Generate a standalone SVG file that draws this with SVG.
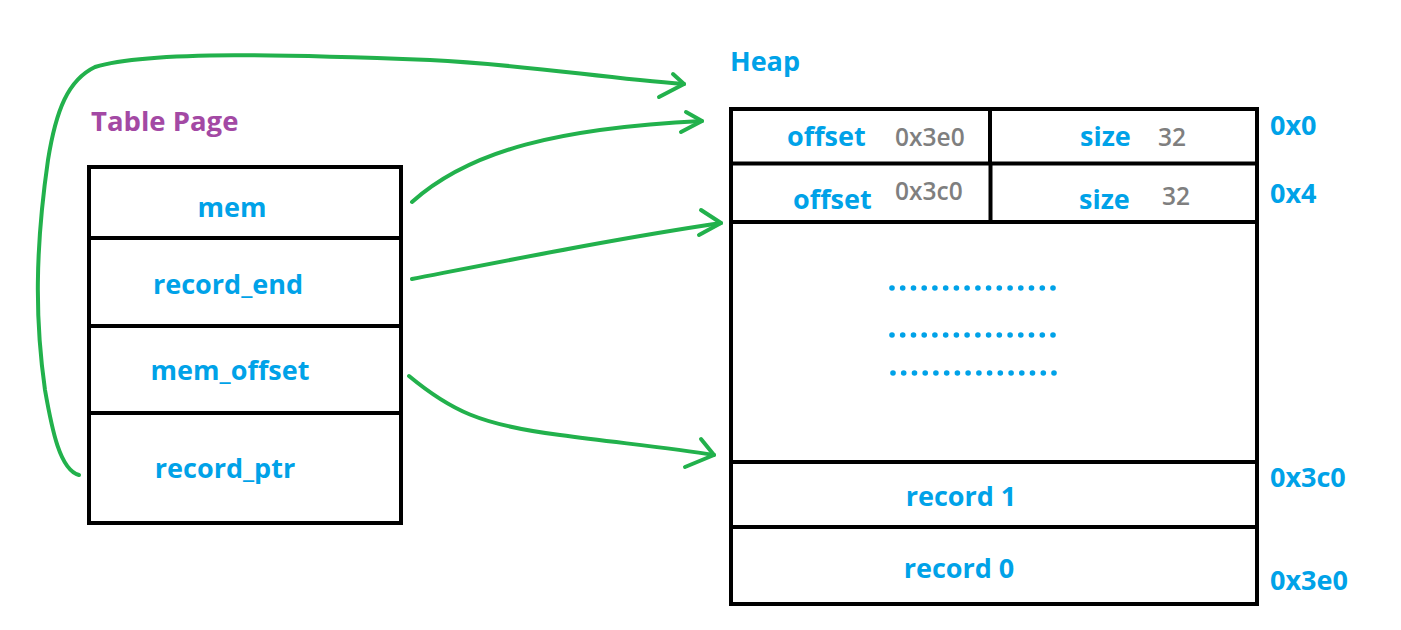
<svg xmlns="http://www.w3.org/2000/svg" width="1401" height="630" viewBox="0 0 1401 630">
<style>
.bx{fill:#fff;stroke:#000;stroke-width:4}
.ln{stroke:#000;stroke-width:4;fill:none}
.lb{font-family:"Open Sans","Noto Sans",sans-serif;font-weight:700;fill:#00a2e8;font-size:27px}
.gv{font-family:"Open Sans","Noto Sans",sans-serif;font-weight:600;fill:#7f7f7f;font-size:24.5px}
.ttl{font-family:"Open Sans","Noto Sans",sans-serif;font-weight:700;fill:#a349a4;font-size:27.5px}
.ar{fill:none;stroke:#22b14c;stroke-width:4;stroke-linecap:round;stroke-linejoin:round}
.dot{fill:#00a2e8}
</style>
<rect width="1401" height="630" fill="#fff"/>
<g id="table-page">
<text class="ttl" x="91" y="131">Table Page</text>
<rect class="bx" x="89" y="167" width="312" height="356"/>
<line class="ln" x1="89" y1="238" x2="401" y2="238"/>
<line class="ln" x1="87" y1="326" x2="401" y2="326"/>
<line class="ln" x1="87" y1="413" x2="401" y2="413"/>
<text class="lb" x="232" y="217" text-anchor="middle">mem</text>
<text class="lb" x="228" y="294" text-anchor="middle">record_end</text>
<text class="lb" x="230" y="380" text-anchor="middle">mem_offset</text>
<text class="lb" x="225" y="478" text-anchor="middle">record_ptr</text>
</g>
<g id="heap">
<text class="lb" x="730" y="71">Heap</text>
<rect class="bx" x="731" y="109" width="526" height="495"/>
<line class="ln" x1="731" y1="163.5" x2="1257" y2="163.5" stroke-width="5.5"/>
<line class="ln" x1="731" y1="222" x2="1257" y2="222"/>
<line class="ln" x1="990" y1="109" x2="990" y2="164"/>
<line class="ln" x1="990.5" y1="163" x2="990.5" y2="222"/>
<line class="ln" x1="731" y1="462" x2="1257" y2="462"/>
<line class="ln" x1="731" y1="527" x2="1257" y2="527"/>
<text class="lb" x="787" y="146">offset</text>
<text class="gv" x="895" y="146">0x3e0</text>
<text class="lb" x="1080" y="146">size</text>
<text class="gv" x="1158" y="146">32</text>
<text class="lb" x="793" y="209">offset</text>
<text class="gv" x="895" y="200">0x3c0</text>
<text class="lb" x="1079" y="209">size</text>
<text class="gv" x="1162" y="205">32</text>
<g id="dots">
<circle class="dot" cx="892" cy="288" r="2.8"/><circle class="dot" cx="902.7" cy="288" r="2.8"/><circle class="dot" cx="913.5" cy="288" r="2.8"/><circle class="dot" cx="924.2" cy="288" r="2.8"/><circle class="dot" cx="934.9" cy="288" r="2.8"/><circle class="dot" cx="945.7" cy="288" r="2.8"/><circle class="dot" cx="956.4" cy="288" r="2.8"/><circle class="dot" cx="967.1" cy="288" r="2.8"/><circle class="dot" cx="977.9" cy="288" r="2.8"/><circle class="dot" cx="988.6" cy="288" r="2.8"/><circle class="dot" cx="999.3" cy="288" r="2.8"/><circle class="dot" cx="1010.1" cy="288" r="2.8"/><circle class="dot" cx="1020.8" cy="288" r="2.8"/><circle class="dot" cx="1031.5" cy="288" r="2.8"/><circle class="dot" cx="1042.3" cy="288" r="2.8"/><circle class="dot" cx="1053" cy="288" r="2.8"/>
<circle class="dot" cx="892" cy="335" r="2.8"/><circle class="dot" cx="902.7" cy="335" r="2.8"/><circle class="dot" cx="913.5" cy="335" r="2.8"/><circle class="dot" cx="924.2" cy="335" r="2.8"/><circle class="dot" cx="934.9" cy="335" r="2.8"/><circle class="dot" cx="945.7" cy="335" r="2.8"/><circle class="dot" cx="956.4" cy="335" r="2.8"/><circle class="dot" cx="967.1" cy="335" r="2.8"/><circle class="dot" cx="977.9" cy="335" r="2.8"/><circle class="dot" cx="988.6" cy="335" r="2.8"/><circle class="dot" cx="999.3" cy="335" r="2.8"/><circle class="dot" cx="1010.1" cy="335" r="2.8"/><circle class="dot" cx="1020.8" cy="335" r="2.8"/><circle class="dot" cx="1031.5" cy="335" r="2.8"/><circle class="dot" cx="1042.3" cy="335" r="2.8"/><circle class="dot" cx="1053" cy="335" r="2.8"/>
<circle class="dot" cx="893" cy="373" r="2.8"/><circle class="dot" cx="903.7" cy="373" r="2.8"/><circle class="dot" cx="914.5" cy="373" r="2.8"/><circle class="dot" cx="925.2" cy="373" r="2.8"/><circle class="dot" cx="935.9" cy="373" r="2.8"/><circle class="dot" cx="946.7" cy="373" r="2.8"/><circle class="dot" cx="957.4" cy="373" r="2.8"/><circle class="dot" cx="968.1" cy="373" r="2.8"/><circle class="dot" cx="978.9" cy="373" r="2.8"/><circle class="dot" cx="989.6" cy="373" r="2.8"/><circle class="dot" cx="1000.3" cy="373" r="2.8"/><circle class="dot" cx="1011.1" cy="373" r="2.8"/><circle class="dot" cx="1021.8" cy="373" r="2.8"/><circle class="dot" cx="1032.5" cy="373" r="2.8"/><circle class="dot" cx="1043.3" cy="373" r="2.8"/><circle class="dot" cx="1054" cy="373" r="2.8"/>
</g>
<text class="lb" x="961" y="506" text-anchor="middle">record 1</text>
<text class="lb" x="959" y="578" text-anchor="middle">record 0</text>
<text class="lb" x="1270" y="135">0x0</text>
<text class="lb" x="1270" y="203">0x4</text>
<text class="lb" x="1270" y="487">0x3c0</text>
<text class="lb" x="1270" y="590">0x3e0</text>
</g>
<g id="connectors">
<path class="ar" d="M79,475 C60,470 52,430 45,390 C35,320 35,250 48,160 C56,110 68,80 95,67 C150,50 300,55 430,60 C530,65 600,78 684,84"/>
<path class="ar" d="M673,74 L684,84 L659,97"/>
<path class="ar" d="M412,202 C470,150 560,128 702,121"/>
<path class="ar" d="M686,112 L702,121 L681,132"/>
<path class="ar" d="M412,279 C520,258 620,238 721,223"/>
<path class="ar" d="M701,210 L721,223 L699,235"/>
<path class="ar" d="M409,376 C450,410 480,425 560,435 C620,443 670,448 714,455"/>
<path class="ar" d="M701,439 L714,455 L685,467"/>
</g>
</svg>
